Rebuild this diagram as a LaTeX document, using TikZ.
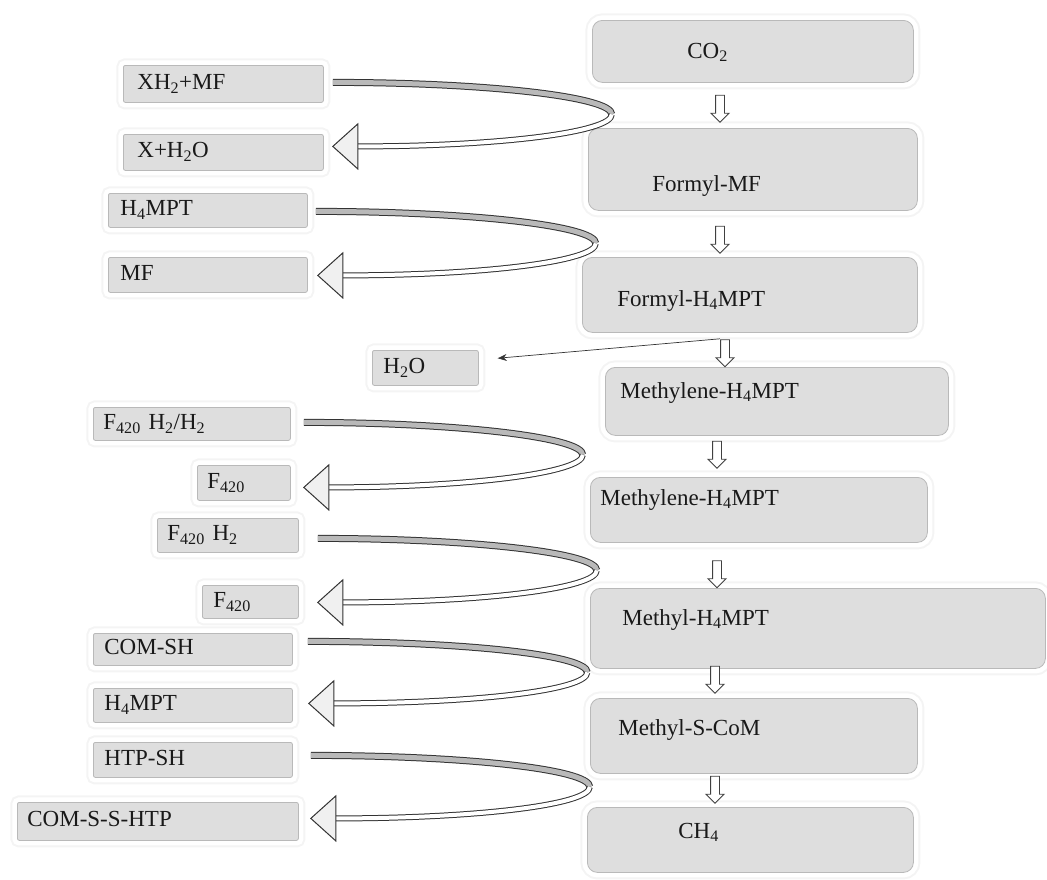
\documentclass[tikz,border=0pt]{standalone}
\usepackage{fontspec}
\setmainfont{Liberation Serif}
\usetikzlibrary{
  arrows.meta,
  calc,
  shapes.arrows
}

\begin{document}
\begin{tikzpicture}[
  x=1pt, y=-1pt,
  every node/.style={font=\fontsize{23pt}{27pt}\selectfont, text=black!90},
  glow/.style={preaction={draw=gray!9, line width=14pt}, preaction={draw=white, line width=10pt}},
  box/.style n args={3}{minimum width=#1pt, minimum height=#2pt, inner xsep=#3pt, inner ysep=0pt,
    /utils/exec={\pgfmathsetmacro\boxtw{#1-2*#3}}, text width=\boxtw pt, align=left, anchor=north west},
  stage/.style={glow, draw=gray!55, line width=0.8pt, fill=gray!26, rounded corners=10pt},
  reagent/.style={glow, draw=gray!55, line width=0.8pt, fill=gray!26, rounded corners=2pt,
    text height=16pt, text depth=5pt},
  txt/.style 2 args={text height=#1pt, text depth=#2pt},
  downarr/.style={single arrow, draw=black!75, fill=white, line width=0.9pt, inner sep=4pt,
    single arrow head extend=4.5pt, minimum height=27pt, rotate=-90},
  ribtop/.style={draw=black!80, line width=1pt, double=gray!55, double distance=5pt},
  ribbot/.style={draw=black!80, line width=1pt, double=white, double distance=4pt},
  headtri/.style={draw=black!80, fill=gray!12, line width=1pt, line join=miter},
  thinarr/.style={-{Stealth[length=9pt, width=7pt]}, draw=black!80, line width=0.7pt, shorten >=19pt}
]
\useasboundingbox (0,0) rectangle (1047,879);

% main pathway
\node[stage, box={321}{62}{95}, txt={18.4}{5}] (co2) at (592,20) {CO\textsubscript{2}};
\node[stage, box={329}{82}{64}, txt={48.4}{5}] (fmf) at (588,128) {Formyl-MF};
\node[stage, box={335}{75}{35}, txt={27.4}{5}] (fhm) at (582,257) {Formyl-H\textsubscript{4}MPT};
\node[stage, box={343}{68}{15}, txt={16}{22.6}] (mlh1) at (605,367) {Methylene-H\textsubscript{4}MPT};
\node[stage, box={337}{65}{10}, txt={16}{25.6}] (mlh2) at (590,477) {Methylene-H\textsubscript{4}MPT};
\node[stage, box={455}{80}{32}, txt={16}{22.6}] (mh) at (590,588) {Methyl-H\textsubscript{4}MPT};
\node[stage, box={327}{75}{28}, txt={16}{17.6}] (msc) at (590,698) {Methyl-S-CoM};
\node[stage, box={326}{65}{91}, txt={16}{19.6}] (ch4) at (587,807) {CH\textsubscript{4}};

% side reactions
\node[reagent, box={200}{37}{14}] (xhmf) at (123,65) {XH\textsubscript{2}+MF};
\node[reagent, box={200}{36}{14}] (xho) at (123,134) {X+H\textsubscript{2}O};
\node[reagent, box={199}{34}{12}] (hmpt1) at (108,193) {H\textsubscript{4}MPT};
\node[reagent, box={199}{35}{12}] (mf) at (108,257) {MF};
\node[reagent, box={106}{35}{11}] (hwater) at (372,350) {H\textsubscript{2}O};
\node[reagent, box={197}{33}{10}] (fhh) at (93,407) {F\textsubscript{420} H\textsubscript{2}/H\textsubscript{2}};
\node[reagent, box={93}{35}{10}] (fa) at (197,465) {F\textsubscript{420}};
\node[reagent, box={141}{34}{10}] (fh) at (157,518) {F\textsubscript{420} H\textsubscript{2}};
\node[reagent, box={96}{33}{11}] (fb) at (202,585) {F\textsubscript{420}};
\node[reagent, box={199}{32}{11}] (comsh) at (93,633) {COM-SH};
\node[reagent, box={199}{34}{11}] (hmpt2) at (93,688) {H\textsubscript{4}MPT};
\node[reagent, box={199}{35}{11}] (htpsh) at (93,742) {HTP-SH};
\node[reagent, box={281}{38}{10}] (comss) at (17,802) {COM-S-S-HTP};

\node[downarr] (a1) at (720,106.5) {};
\node[downarr] (a2) at (720,237.5) {};
\node[downarr] (a3) at (725,351) {};
\node[downarr] (a4) at (717,452.5) {};
\node[downarr] (a5) at (717,572) {};
\node[downarr] (a6) at (715,677.5) {};
\node[downarr] (a7) at (715,787.5) {};

\coordinate (split) at ([shift={(-30,6)}]fhm.south);
\draw[thinarr] (split) -- ([yshift=8pt]hwater.east);

\foreach \a/\b/\sx/\sy/\ex/\ey in {xhmf/xho/9/-1.5/9/-6, hmpt1/mf/8/1/10/0.5,
    fhh/fa/13/-1.5/13/4.5, fh/fb/19/3/19/0.5, comsh/hmpt2/15/-8/16/-2, htpsh/comss/18/-4.5/12/-3} {
  \path ([shift={(\sx,\sy)}]\a.east) coordinate (s)
        ([shift={(\ex,\ey)}]\b.east) coordinate (e)
        ($(s)!.5!(e)+(279,0)$) coordinate (t)
        ([shift={(25,0)}]e) coordinate (b);
  \draw[ribtop] (s) .. controls +(150,0) and +(0,-18) .. (t);
  \draw[ribbot] (t) .. controls +(0,18) and +(140,0) .. (b);
  \draw[headtri] (e) -- ++(25,-22.5) -- ++(0,45) -- cycle;
}
\end{tikzpicture}
\end{document}
